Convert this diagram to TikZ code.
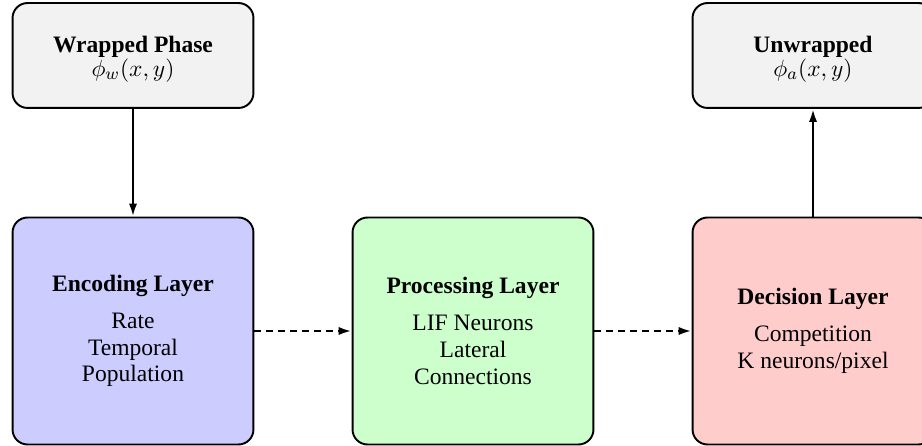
\documentclass[tikz,border=0pt]{standalone}
\usepackage{fontspec}
\setmainfont{Liberation Serif}
\usetikzlibrary{arrows.meta}
\begin{document}
\begin{tikzpicture}[x=0.467pt,y=-0.467pt,
  box/.style={draw=black, line width=0.9pt, rounded corners=7pt, align=center,
    minimum width=112.5pt, inner sep=2pt,
    font=\fontsize{11}{12.5}\selectfont},
  iobox/.style={box, fill=gray!10, minimum height=49pt},
  layerbox/.style={box, minimum height=106pt},
  flow/.style={line width=1.1pt, -{Latex[length=6pt,width=3.8pt]}},
  dflow/.style={flow, dash pattern=on 3pt off 2.6pt}]
\useasboundingbox (0,0) rectangle (922,446);
\clip (0,0) rectangle (922,446);
\node[iobox] (wp) at (133,55.5) {\rule{0pt}{11pt}\textbf{Wrapped Phase}\\[-1.4pt] $\phi_w(x,y)$};
\node[iobox] (uw) at (813,55.5) {\rule{0pt}{11pt}\textbf{Unwrapped}\\[-1.4pt] $\phi_a(x,y)$};
\node[layerbox, fill=blue!20] (enc) at (133,331) {\textbf{Encoding Layer}\\[4.8pt] Rate\\ Temporal\\ Population};
\node[layerbox, fill=green!20] (proc) at (473,331) {\textbf{Processing Layer}\\[4.8pt] LIF Neurons\\ Lateral\\ Connections};
\node[layerbox, fill=red!20] (dec) at (813,331) {\textbf{Decision Layer}\\[4.8pt] Competition\\ K neurons/pixel};
\draw[flow] (wp) -- (enc);
\draw[dflow] (enc) -- (proc);
\draw[dflow] (proc) -- (dec);
\draw[flow] (dec) -- (uw);
\end{tikzpicture}
\end{document}
